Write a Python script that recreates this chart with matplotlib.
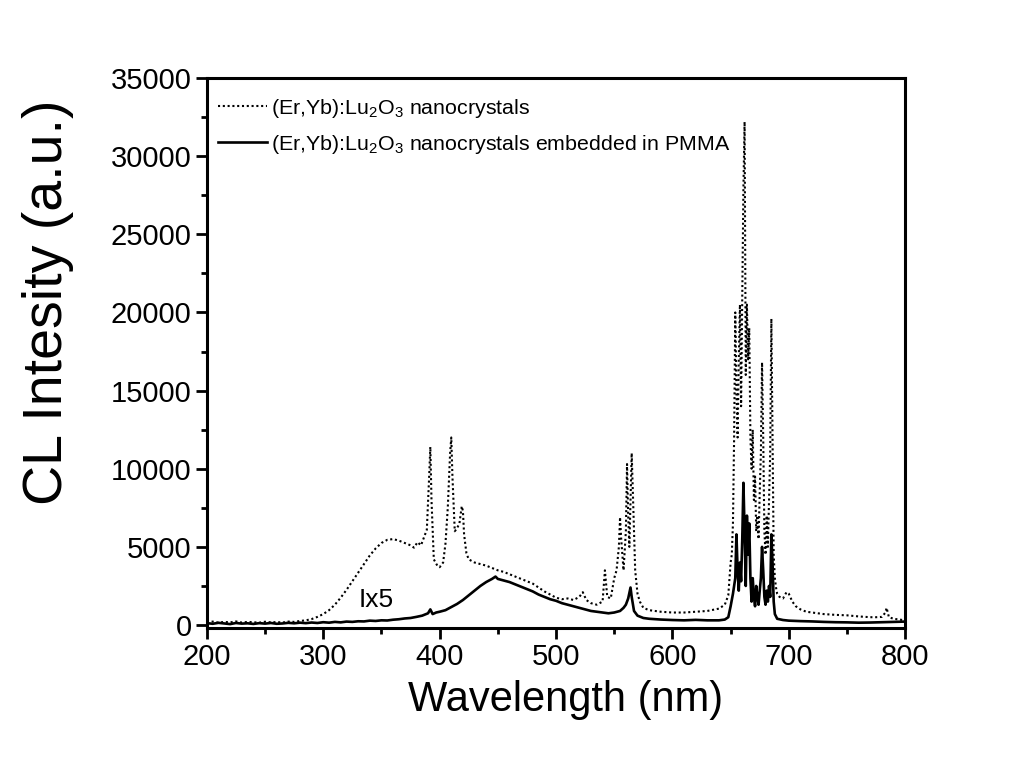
"""CL spectra of (Er,Yb):Lu2O3 nanocrystals, bare and embedded in PMMA."""

import matplotlib

matplotlib.use("Agg")
import matplotlib.pyplot as plt
from matplotlib.ticker import MultipleLocator

# nanocrystals (dotted)
wl_nc = [
    200, 205, 210, 215, 220, 225, 230, 235, 240, 245, 250, 255, 260, 265, 270, 275,
    280, 285, 290, 295, 300, 305, 310, 315, 320, 325, 330, 335, 340, 345, 350, 355,
    360, 365, 370, 375, 378, 381, 384, 387, 389, 391, 392, 393, 395, 398, 400, 403,
    405, 407, 409, 410, 411, 413, 415, 417, 419, 420, 421, 423, 425, 430, 435, 440,
    445, 450, 455, 460, 465, 470, 475, 480, 485, 490, 495, 500, 505, 510, 515, 520,
    523, 526, 530, 535, 540, 542, 544, 547, 550, 552, 554, 555, 556, 558, 560, 561,
    562, 563, 564, 565, 566, 568, 570, 572, 575, 580, 590, 600, 610, 620, 630, 640,
    645, 648, 650, 651, 652, 653, 654, 655, 656, 657, 658, 659, 660, 661, 662, 663,
    664, 665, 666, 667, 668, 669, 670, 671, 672, 673, 674, 675, 676, 677, 678, 679,
    680, 681, 682, 683, 684, 685, 686, 687, 688, 689, 690, 692, 695, 698, 700, 703,
    706, 710, 715, 720, 730, 740, 750, 760, 770, 775, 780, 783, 784, 786, 790, 795, 800,
]
cl_nc = [
    180, 220, 150, 200, 170, 230, 160, 200, 180, 150, 210, 170, 190, 160, 220, 200,
    260, 300, 380, 520, 700, 950, 1300, 1750, 2250, 2800, 3350, 3900, 4450, 4900, 5250, 5450,
    5500, 5400, 5250, 5100, 4950, 5300, 5100, 5700, 6100, 9500, 11400, 8000, 4200, 3800, 3700, 4000,
    5200, 7500, 11000, 12000, 9500, 6000, 6200, 6500, 7600, 7300, 5800, 4600, 4200, 4000, 3900, 3800,
    3650, 3500, 3400, 3250, 3100, 2950, 2800, 2650, 2400, 2150, 1950, 1750, 1650, 1700, 1600, 1800,
    2100, 1600, 1400, 1300, 1500, 3500, 1800, 1700, 3000, 3500, 5000, 6900, 5500, 3500, 6000, 10300,
    7000, 5000, 8000, 11000, 8500, 3500, 2000, 1500, 1100, 950, 850, 800, 800, 850, 900, 1050,
    1300, 1900, 4000, 4500, 6500, 12000, 20000, 15000, 12000, 17000, 20500, 14000, 21000, 28000, 32200, 16000,
    20500, 17000, 19000, 12000, 10000, 12500, 8000, 9500, 6000, 7000, 5500, 8500, 11000, 16800, 12000, 6000,
    4500, 7000, 5000, 8000, 11000, 19600, 12000, 4500, 3000, 2400, 2000, 1800, 1700, 2100, 2000, 1500,
    1200, 1000, 850, 800, 700, 650, 620, 550, 500, 500, 520, 800, 1100, 500, 400, 350, 300,
]

# nanocrystals embedded in PMMA, intensity x5 (solid)
wl_pmma = [
    200, 205, 210, 215, 220, 225, 230, 235, 240, 245, 250, 255, 260, 265, 270, 275,
    280, 285, 290, 295, 300, 305, 310, 315, 320, 325, 330, 335, 340, 345, 350, 355,
    360, 365, 370, 375, 380, 385, 390, 392, 394, 397, 400, 405, 410, 415, 420, 425,
    430, 435, 440, 445, 448, 450, 455, 460, 465, 470, 475, 480, 485, 490, 495, 500,
    505, 510, 515, 520, 525, 530, 535, 540, 545, 550, 555, 558, 560, 562, 564, 565,
    567, 570, 575, 580, 590, 600, 610, 620, 630, 640, 645, 648, 650, 652, 654, 655,
    656, 657, 658, 659, 660, 661, 662, 663, 664, 665, 666, 667, 668, 669, 670, 671,
    672, 673, 674, 675, 676, 677, 678, 679, 680, 681, 682, 683, 684, 685, 686, 687,
    688, 690, 695, 700, 710, 720, 730, 740, 750, 760, 770, 780, 790, 800,
]
cl_pmma = [
    120, 80, 140, 100, 60, 130, 90, 110, 70, 120, 90, 130, 80, 100, 140, 110,
    150, 120, 160, 130, 180, 150, 200, 170, 220, 200, 240, 230, 280, 260, 300, 290,
    340, 370, 420, 450, 520, 600, 750, 1000, 700, 800, 850, 950, 1150, 1350, 1600, 1900,
    2200, 2500, 2750, 2950, 3100, 2950, 2850, 2750, 2600, 2450, 2300, 2150, 1950, 1800, 1650, 1550,
    1400, 1300, 1200, 1100, 1000, 900, 850, 800, 750, 800, 900, 1100, 1300, 1700, 2400, 1800,
    900, 600, 450, 400, 350, 320, 300, 330, 300, 300, 350, 500, 1200, 2000, 3000, 5800,
    3500, 2200, 4000, 2800, 5500, 9100, 6000, 2500, 7000, 4500, 6500, 3000, 1500, 3000, 1800, 1200,
    2500, 1800, 1300, 2200, 3000, 5000, 3500, 1800, 1300, 2200, 1500, 2500, 1800, 5800, 4000, 1500,
    700, 400, 320, 280, 250, 230, 200, 180, 170, 150, 160, 180, 200, 220,
]

LABEL_NC = r"(Er,Yb):Lu$_2$O$_3$ nanocrystals"
LABEL_PMMA = r"(Er,Yb):Lu$_2$O$_3$ nanocrystals embedded in PMMA"


def main() -> None:
    plt.rcParams["font.family"] = ["Liberation Sans", "DejaVu Sans"]
    plt.rcParams["mathtext.default"] = "regular"

    fig = plt.figure(figsize=(10.24, 7.68), dpi=100)
    ax = fig.add_axes([0.202, 0.1823, 0.682, 0.7161])

    ax.plot(wl_nc, cl_nc, color="black", lw=1.5, linestyle=(0, (1.0, 1.3)), label=LABEL_NC)
    ax.plot(wl_pmma, cl_pmma, color="black", lw=1.9, label=LABEL_PMMA)

    ax.set_xlim(200, 800)
    ax.set_ylim(-190, 35000)
    ax.xaxis.set_major_locator(MultipleLocator(100))
    ax.xaxis.set_minor_locator(MultipleLocator(50))
    ax.yaxis.set_major_locator(MultipleLocator(5000))
    ax.yaxis.set_minor_locator(MultipleLocator(2500))
    ax.tick_params(which="both", direction="out", width=2, labelsize=21, top=False, right=False)
    ax.tick_params(which="major", length=8, pad=3)
    ax.tick_params(which="minor", length=4)
    for spine in ax.spines.values():
        spine.set_linewidth(2.2)

    ax.set_xlabel("Wavelength (nm)", fontsize=30)
    ax.xaxis.set_label_coords(0.513, -0.095)
    ax.set_ylabel("CL Intesity (a.u.)", fontsize=40)
    ax.yaxis.set_label_coords(-0.19, 0.592)

    ax.text(330, 1150, "Ix5", fontsize=19)

    ax.legend(
        loc="upper left",
        bbox_to_anchor=(0.016, 0.966),
        frameon=False,
        fontsize=15.4,
        handlelength=2.3,
        handletextpad=0.2,
        labelspacing=0.6,
        borderaxespad=0.0,
        borderpad=0.0,
    )

    fig.savefig("out.png", dpi=100)
    plt.close(fig)


if __name__ == "__main__":
    main()
